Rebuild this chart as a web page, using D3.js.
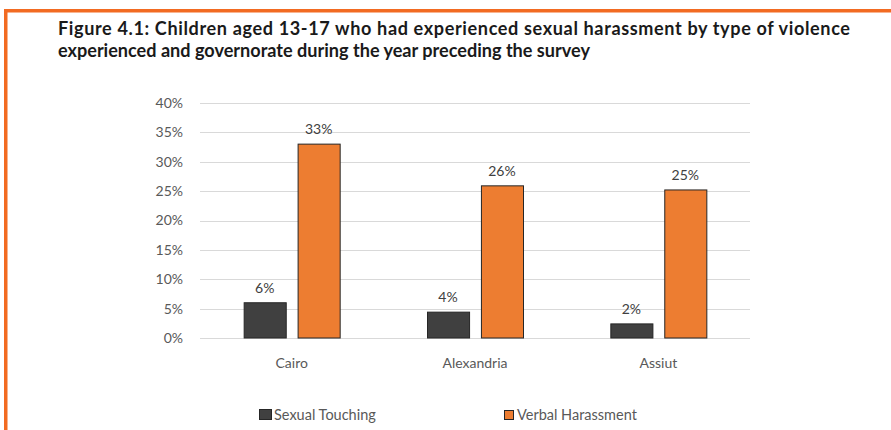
<!DOCTYPE html>
<html>
<head>
<meta charset="utf-8">
<script src="https://cdn.jsdelivr.net/npm/d3@7"></script>
<style>
  body { margin: 0; background: #fff; }
  svg { display: block; }
</style>
</head>
<body>
<div class="canvas"></div>
<script>
// chart data
const governorates = ['Cairo', 'Alexandria', 'Assiut'];
const seriesNames = ['Sexual Touching', 'Verbal Harassment'];
const sexualTouching = [6.0, 4.4, 2.4];
const verbalHarassment = [33.0, 25.9, 25.2];
const yTicks = [0, 5, 10, 15, 20, 25, 30, 35, 40];
const colors = ['#404040', '#ed7d31'];

const titleLines = [
  'Figure 4.1: Children aged 13-17 who had experienced sexual harassment by type of violence',
  'experienced and governorate during the year preceding the survey'
];

const dims = { width: 891, height: 430 };
const plot = { left: 200, right: 750, top: 103, bottom: 338 };
const font = 'Lato, sans-serif';

const svg = d3.select('.canvas').append('svg')
  .attr('width', dims.width)
  .attr('height', dims.height);

// orange frame (top + left only)
svg.append('rect')
  .attr('x', 4).attr('y', 9)
  .attr('width', dims.width).attr('height', 3.5)
  .attr('fill', '#f26b22');
svg.append('rect')
  .attr('x', 4).attr('y', 9)
  .attr('width', 3.5).attr('height', dims.height)
  .attr('fill', '#f26b22');

// title - size picked so the second line is as wide as in the report
const title = svg.append('g')
  .attr('font-family', font)
  .attr('font-weight', 'bold')
  .attr('font-size', 16)
  .attr('fill', '#1a1a1a');
const t2 = title.append('text')
  .attr('x', 58).attr('y', 57)
  .text(titleLines[1]);
const fs = 16 * 532 / t2.node().getComputedTextLength();
title.attr('font-size', fs);
title.append('text')
  .attr('x', 58).attr('y', 35)
  .attr('textLength', 792)
  .attr('lengthAdjust', 'spacing')
  .text(titleLines[0]);

const x0 = d3.scaleBand()
  .domain(governorates)
  .range([plot.left, plot.right]);

const x1 = d3.scaleBand()
  .domain(seriesNames)
  .range([0, 96])
  .paddingInner(0.22);

const y = d3.scaleLinear()
  .domain([0, 40])
  .range([plot.bottom, plot.top]);

// gridlines
svg.append('g')
  .selectAll('line')
  .data(yTicks)
  .join('line')
  .attr('x1', plot.left).attr('x2', plot.right)
  .attr('y1', d => Math.round(y(d)) + 0.5)
  .attr('y2', d => Math.round(y(d)) + 0.5)
  .attr('stroke', '#d9d9d9')
  .attr('stroke-width', 1);

// y axis labels
const yAxis = svg.append('g')
  .attr('transform', `translate(${plot.left},0)`)
  .call(d3.axisLeft(y).tickValues(yTicks).tickSize(0).tickPadding(17).tickFormat(d => d + '%'));
yAxis.select('.domain').remove();
yAxis.selectAll('text')
  .attr('font-family', font)
  .attr('font-size', 14)
  .attr('fill', '#595959');

// category labels
const xAxis = svg.append('g')
  .attr('transform', `translate(0,${plot.bottom})`)
  .call(d3.axisBottom(x0).tickSize(0).tickPadding(20));
xAxis.select('.domain').remove();
xAxis.selectAll('text')
  .attr('font-family', font)
  .attr('font-size', 14)
  .attr('fill', '#595959');

// bars
const rows = governorates.map((g, i) => ({
  g,
  vals: [
    { key: seriesNames[0], v: sexualTouching[i], c: colors[0] },
    { key: seriesNames[1], v: verbalHarassment[i], c: colors[1] }
  ]
}));

const groups = svg.append('g')
  .selectAll('g')
  .data(rows)
  .join('g')
  .attr('transform', d => `translate(${x0(d.g) + x0.bandwidth() / 2 - 48},0)`);

groups.selectAll('rect')
  .data(d => d.vals)
  .join('rect')
  .attr('x', d => x1(d.key) + 0.5)
  .attr('y', d => y(d.v))
  .attr('width', x1.bandwidth())
  .attr('height', d => y(0) - y(d.v))
  .attr('fill', d => d.c)
  .attr('stroke', '#262626')
  .attr('stroke-width', 1);

groups.selectAll('text')
  .data(d => d.vals)
  .join('text')
  .attr('x', d => x1(d.key) + x1.bandwidth() / 2)
  .attr('y', d => y(d.v) - 10)
  .attr('text-anchor', 'middle')
  .attr('font-family', font)
  .attr('font-size', 14)
  .attr('fill', '#404040')
  .text(d => Math.round(d.v) + '%');

// legend
const legendPos = [259, 504];
const legend = svg.append('g')
  .selectAll('g')
  .data(seriesNames)
  .join('g')
  .attr('transform', (d, i) => `translate(${legendPos[i]},409)`);
legend.append('rect')
  .attr('x', 0.5)
  .attr('y', (d, i) => i === 0 ? 0.5 : 1.5)
  .attr('width', (d, i) => i === 0 ? 12 : 9)
  .attr('height', (d, i) => i === 0 ? 10 : 9)
  .attr('fill', (d, i) => colors[i])
  .attr('stroke', '#262626');
legend.append('text')
  .attr('x', (d, i) => i === 0 ? 15 : 13)
  .attr('y', 10.5)
  .attr('font-family', font)
  .attr('font-size', 14.5)
  .attr('fill', '#595959')
  .text(d => d);
</script>
</body>
</html>
